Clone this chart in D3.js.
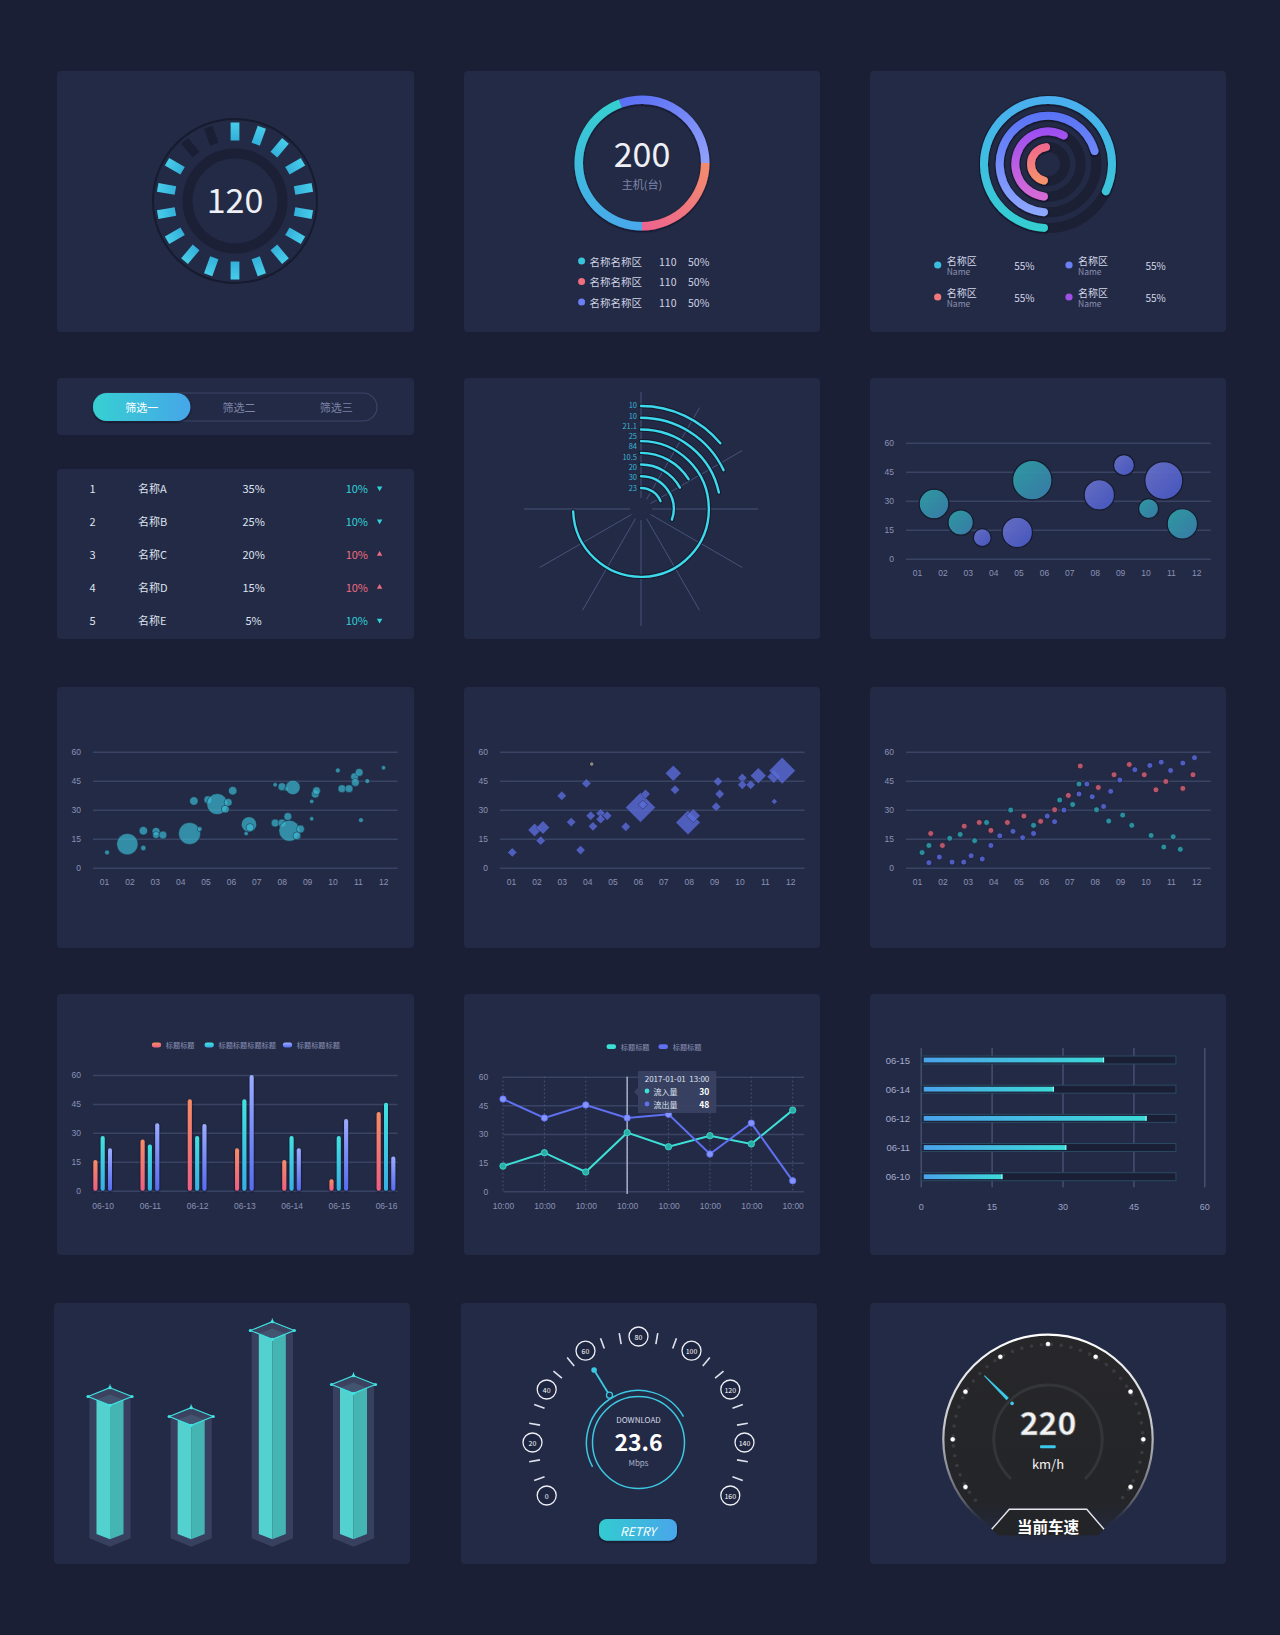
<!DOCTYPE html>
<html>
<head>
<meta charset="utf-8">
<script src="https://cdn.jsdelivr.net/npm/d3@7"></script>
<style>
body { margin: 0; background: #1b1f36; }
svg { display: block; font-family: "Noto Sans CJK SC", "Noto Sans", sans-serif; }
</style>
</head>
<body>
<svg id="board" width="1280" height="1635"></svg>
<script>
// ---- data -------------------------------------------------------------
var gaugeSegments = [1,1,1,1,1,1,1,1,1,1,1,1,1,1,1,1,0,0];
var gaugeValue = 120;

var donutValues = [110, 90, 160];            // blue, red, cyan (degrees of ring)
var donutTotal = 200;
var donutUnit = "主机(台)";
var donutNames = ["名称名称区", "名称名称区", "名称名称区"];
var donutCounts = [110, 110, 110];
var donutShares = ["50%", "50%", "50%"];

var ringValues = [83, 72, 60, 52];
var ringNames = ["名称区", "名称区", "名称区", "名称区"];
var ringSub = ["Name", "Name", "Name", "Name"];
var ringShares = ["55%", "55%", "55%", "55%"];

var tabs = ["筛选一", "筛选二", "筛选三"];
var rankNames = ["名称A", "名称B", "名称C", "名称D", "名称E"];
var rankShares = ["35%", "25%", "20%", "15%", "5%"];
var rankDeltas = ["10%", "10%", "10%", "10%", "10%"];
var rankTrend = ["down", "down", "up", "up", "down"];

var radialValues = [14, 18, 21.7, 74.4, 16.1, 17, 30.3, 18.9];
var radialLabels = ["10", "10", "21.1", "25", "84", "10.5", "20", "30", "23"];
var radialSpokes = [0, 30, 60, 90, 120, 150, 180, 210, 240, 270];

var months = ["01","02","03","04","05","06","07","08","09","10","11","12"];
var yTicks = [0, 15, 30, 45, 60];

var bubbleX = [1.67, 2.72, 3.57, 4.95, 5.54, 8.18, 9.15, 10.12, 10.72, 11.45];
var bubbleY = [28.3, 18.7, 10.9, 13.6, 40.6, 33, 48.4, 25.9, 40.4, 18];
var bubbleSize = [22, 16, 8, 23, 39, 23, 11, 10, 36, 23];
var bubbleGroup = ["a", "a", "b", "b", "a", "b", "b", "a", "b", "a"];

var clusterX = [1.12, 1.92, 2.55, 2.55, 3.05, 3.05, 3.32, 4.37, 4.77, 4.54, 5.09, 5.46, 5.78, 5.89, 6.07, 6.6, 6.71, 6.75, 7.74, 8.01, 8.18, 8.44, 7.74, 8.01, 8.24, 8.3, 8.6, 8.74, 9.18, 9.32, 9.37, 9.18, 10.21, 10.37, 10.65, 10.87, 10.9, 11.05, 11.37, 11.12, 12.01];
var clusterY = [7.9, 12.2, 10.2, 19.1, 18.8, 16.9, 16.9, 17.7, 20, 34.5, 35.2, 32.9, 30.3, 33.8, 39.8, 17.7, 22.4, 20.8, 42.9, 41.9, 40.7, 41.5, 23.1, 23.1, 26.5, 19.1, 16.5, 20, 34.3, 38.1, 39.8, 25.3, 50.3, 40.9, 40.9, 47.1, 44.1, 49.3, 44.8, 24.6, 51.7];
var clusterSize = [5, 95, 6, 15, 13, 10, 13, 101, 5, 15, 13, 92, 13, 13, 15, 4, 49, 13, 4, 13, 4, 44, 13, 13, 13, 92, 13, 13, 4, 13, 13, 4, 5, 13, 13, 13, 13, 13, 5, 5, 4];

var diamondX = [1.05, 1.93, 2.26, 2.17, 3, 3.37, 3.74, 3.97, 4.14, 4.23, 4.53, 4.53, 4.79, 5.52, 6.1, 6.19, 6.3, 7.39, 7.46, 7.97, 8.18, 9.08, 9.15, 9.22, 10.11, 10.11, 10.44, 10.74, 11.35, 11.68, 11.37];
var diamondY = [7.9, 19.5, 20.8, 14, 37.2, 23.6, 9.1, 43.6, 26.9, 21.4, 28.1, 25.1, 26.9, 21.2, 31.2, 32.6, 38.1, 48.8, 40.3, 23.4, 26.9, 31.5, 44.6, 38.1, 46.4, 42.9, 42.9, 47.6, 47.1, 50.2, 34.3];
var diamondSize = [22, 45, 45, 22, 22, 22, 22, 22, 22, 22, 22, 22, 22, 22, 225, 22, 22, 64, 22, 151, 49, 22, 22, 22, 22, 22, 22, 64, 45, 177, 9];
var strayX = [4.18], strayY = [53.6];

var redX = [1.54, 2.0, 2.86, 3.45, 3.91, 4.56, 5.21, 5.87, 6.42, 6.96, 7.43, 8.14, 8.76, 9.36, 9.95, 10.41, 10.8, 11.47, 11.87];
var redY = [17.7, 11.5, 21.5, 23.4, 19.3, 23.4, 26.7, 24, 30, 37.4, 52.6, 41.5, 48.1, 53.4, 48.1, 40.3, 44.6, 41, 48.1];
var tealX = [1.2, 1.47, 2.29, 2.7, 3.27, 3.74, 4.69, 5.59, 6.62, 7.13, 7.38, 8.07, 8.55, 9.1, 9.46, 10.22, 10.72, 11.09, 11.37];
var tealY = [7.8, 11.5, 15.2, 17.2, 14, 23.4, 29.8, 21.9, 35, 32.7, 43.3, 30, 24.1, 27.2, 21.9, 16.7, 10.7, 16, 9.5];
var blueX = [1.47, 1.88, 2.38, 2.84, 3.13, 3.57, 3.91, 4.26, 4.78, 5.16, 5.59, 6.13, 6.42, 6.79, 7.38, 7.69, 7.9, 8.35, 8.63, 8.99, 9.58, 10.17, 10.62, 10.99, 11.47, 11.93];
var blueY = [2.6, 5.5, 2.9, 2.9, 6.2, 4.5, 11.5, 16.5, 18.8, 15.5, 17.7, 26.7, 23.8, 29.8, 38.1, 43.3, 36.7, 31.7, 39.5, 45.3, 50.7, 52.9, 54.6, 50.3, 54.1, 56.9];

var barDays = ["06-10", "06-11", "06-12", "06-13", "06-14", "06-15", "06-16"];
var barA = [15.9, 26.5, 47.4, 22, 15.9, 5.9, 40.8];
var barB = [28.4, 23.9, 28.4, 47.4, 28.4, 28.4, 45.6];
var barC = [22, 35, 34.6, 60, 22, 37.2, 17.8];
var barLegend = ["标题标题", "标题标题标题标题", "标题标题标题"];

var timeLabels = ["10:00", "10:00", "10:00", "10:00", "10:00", "10:00", "10:00", "10:00"];
var inflow = [13.2, 20.2, 10.1, 30.7, 23.3, 29.1, 24.8, 42.5];
var outflow = [48.3, 38.4, 45.2, 38.4, 40.3, 19.5, 35.7, 5.5];
var lineLegend = ["标题标题", "标题标题"];
var tipIndex = 3;
var tipDate = "2017-01-01", tipTime = "13:00";
var tipNames = ["流入量", "流出量"];
var tipValues = [30, 48];

var hDays = ["06-15", "06-14", "06-12", "06-11", "06-10"];
var hValues = [38.8, 28.2, 47.8, 30.8, 17.3];
var hTrackMax = 54;
var hTicks = [0, 15, 30, 45, 60];

var isoValues = [67, 57, 100, 73];

var speedTicks = [0, 20, 40, 60, 80, 100, 120, 140, 160];
var speedNeedle = 59;
var speedText = "23.6";

var carTicks = [0, 30, 60, 90, 120, 150, 180, 210, 240];
var carNeedle = 75;
var carSpeed = 220;

// ---- helpers ----------------------------------------------------------
var svg = d3.select("#board");
var defs = svg.append("defs");
var panelFill = "#232a45";
var gridColor = "#394363";
var axisText = "#8a92b6";

function grad(id, c1, c2, x1, y1, x2, y2) {
  var g = defs.append("linearGradient").attr("id", id)
    .attr("x1", x1).attr("y1", y1).attr("x2", x2).attr("y2", y2);
  g.append("stop").attr("offset", "0%").attr("stop-color", c1);
  g.append("stop").attr("offset", "100%").attr("stop-color", c2);
  return "url(#" + id + ")";
}

var shadow = defs.append("filter").attr("id", "shadow")
  .attr("x", "-30%").attr("y", "-30%").attr("width", "160%").attr("height", "160%");
shadow.append("feDropShadow").attr("dx", 0).attr("dy", 1).attr("stdDeviation", 1.2)
  .attr("flood-color", "#0b0f1f").attr("flood-opacity", 0.9);

function panel(x, y, w, h) {
  var g = svg.append("g").attr("transform", "translate(" + x + "," + y + ")");
  g.append("rect").attr("width", w).attr("height", h).attr("rx", 4).attr("fill", panelFill);
  return g;
}

function polar(r, deg) {
  var a = (deg - 90) * Math.PI / 180;
  return [r * Math.cos(a), r * Math.sin(a)];
}

function arcPath(r, a0, a1) {
  var p = d3.path();
  p.arc(0, 0, r, (a0 - 90) * Math.PI / 180, (a1 - 90) * Math.PI / 180);
  return p.toString();
}

function styleAxis(sel) {
  sel.select(".domain").remove();
  sel.selectAll("text").attr("fill", axisText).attr("font-size", 8.5);
  sel.selectAll("line").attr("stroke", gridColor).attr("stroke-width", 1.5);
}

// shared frame for the three scatter panels
function scatterFrame(g) {
  var x = d3.scaleLinear().domain([1, 12]).range([47, 326.3]);
  var y = d3.scaleLinear().domain([0, 60]).range([180.7, 64.7]);
  g.append("g").attr("transform", "translate(36,0)")
    .call(d3.axisLeft(y).tickValues(yTicks).tickSize(-304.7).tickPadding(12))
    .call(styleAxis);
  g.append("g").attr("transform", "translate(0,180.7)")
    .call(d3.axisBottom(x).tickValues(d3.range(1, 13)).tickSize(0).tickPadding(11)
      .tickFormat(function(d) { return months[d - 1]; }))
    .call(styleAxis);
  return { x: x, y: y };
}

// ---- panel 1 : segmented gauge ---------------------------------------
var p1 = panel(57, 71, 357, 261);
var g1 = p1.append("g").attr("transform", "translate(178,130)");
g1.append("circle").attr("r", 82).attr("fill", panelFill).attr("stroke", "#171b2f").attr("stroke-width", 2);
g1.append("circle").attr("r", 47.5).attr("fill", "none").attr("stroke", "#1b2036").attr("stroke-width", 10);
var segFill = grad("segGrad", "#47cdea", "#33b0da", 0, 0, 0, 1);
var segAngle = d3.scaleLinear().domain([0, gaugeSegments.length]).range([0, 360]);
g1.selectAll("rect.seg").data(gaugeSegments).join("rect").attr("class", "seg")
  .attr("x", -4.4).attr("y", -78.5).attr("width", 8.8).attr("height", 18)
  .attr("transform", function(d, i) { return "rotate(" + segAngle(i) + ")"; })
  .attr("fill", function(d) { return d ? segFill : "#1a1f35"; });
g1.append("text").attr("text-anchor", "middle").attr("y", 12)
  .attr("font-size", 34).attr("fill", "#eef0f5").text(gaugeValue);

// ---- panel 2 : donut --------------------------------------------------
var p2 = panel(464, 71, 356, 261);
var g2 = p2.append("g").attr("transform", "translate(178,92)");
var donutFills = [
  grad("dBlue", "#566cf5", "#92a2fa", 0, 0, 1, 1),
  grad("dRed", "#f38d6c", "#ee6290", 1, 0, 0, 1),
  grad("dCyan", "#48a8eb", "#35d0d0", 0, 1, 0, 0)
];
var pie2 = d3.pie().sort(null).startAngle(-20 * Math.PI / 180).endAngle(340 * Math.PI / 180);
var arc2 = d3.arc().innerRadius(59).outerRadius(67.5);
g2.append("g").attr("filter", "url(#shadow)")
  .selectAll("path").data(pie2(donutValues)).join("path")
  .attr("d", arc2).attr("fill", function(d, i) { return donutFills[i]; });
g2.append("text").attr("text-anchor", "middle").attr("y", 3.5)
  .attr("font-size", 34).attr("fill", "#eef0f5").text(donutTotal);
g2.append("text").attr("text-anchor", "middle").attr("y", 26)
  .attr("font-size", 11).attr("fill", "#7d86aa").text(donutUnit);
var donutDots = ["#36c5dc", "#f06e7e", "#6a7ef5"];
var legY2 = d3.scalePoint().domain(d3.range(donutNames.length)).range([190, 231]);
var leg2 = p2.selectAll("g.leg").data(donutNames).join("g").attr("class", "leg")
  .attr("transform", function(d, i) { return "translate(0," + legY2(i) + ")"; });
leg2.append("circle").attr("cx", 117.6).attr("r", 3.5).attr("fill", function(d, i) { return donutDots[i]; });
leg2.append("text").attr("x", 125.5).attr("dominant-baseline", "central").attr("font-size", 10.5)
  .attr("fill", "#cfd3e4").text(function(d) { return d; });
leg2.append("text").attr("x", 195).attr("dominant-baseline", "central").attr("font-size", 10.5)
  .attr("fill", "#cfd3e4").text(function(d, i) { return donutCounts[i]; });
leg2.append("text").attr("x", 224).attr("dominant-baseline", "central").attr("font-size", 10.5)
  .attr("fill", "#cfd3e4").text(function(d, i) { return donutShares[i]; });

// ---- panel 3 : concentric rings --------------------------------------
var p3 = panel(870, 71, 356, 261);
var g3 = p3.append("g").attr("transform", "translate(178,93)");
var ringR = d3.scalePoint().domain(d3.range(ringValues.length)).range([64, 17]);
var ringFills = [
  grad("rg0", "#33cfd0", "#4aaef0", 0, 1, 0, 0),
  grad("rg1", "#8fa8ff", "#5872f5", 0, 1, 0, 0),
  grad("rg2", "#d86cd4", "#9a4ef2", 0, 1, 0, 0),
  grad("rg3", "#f6946a", "#ef6690", 0, 1, 0, 0)
];
var ringAngle = d3.scaleLinear().domain([0, 100]).range([0, 2 * Math.PI]);
g3.selectAll("circle.track").data(ringValues).join("circle").attr("class", "track")
  .attr("r", function(d, i) { return ringR(i); })
  .attr("fill", "none").attr("stroke", "#1b2035").attr("stroke-width", 10);
g3.append("g").attr("filter", "url(#shadow)")
  .selectAll("path").data(ringValues).join("path")
  .attr("d", function(d, i) {
    return d3.arc().innerRadius(ringR(i) - 4).outerRadius(ringR(i) + 4).cornerRadius(4)
      .startAngle(Math.PI).endAngle(Math.PI + ringAngle(d))();
  })
  .attr("fill", function(d, i) { return ringFills[i]; });
// legend laid out row by row: cyan, blue / salmon, purple
var ringDots = ["#3bbde2", "#6b80f5", "#f0787a", "#a04fe8"];
var ringCol = [67.7, 199];
var ringRow = [194, 226];
var leg3 = p3.selectAll("g.leg").data(ringNames).join("g").attr("class", "leg")
  .attr("transform", function(d, i) {
    return "translate(" + ringCol[i % 2] + "," + ringRow[Math.floor(i / 2)] + ")";
  });
leg3.append("circle").attr("r", 3.6).attr("fill", function(d, i) { return ringDots[i]; });
leg3.append("text").attr("x", 9).attr("y", -0.5).attr("font-size", 10).attr("fill", "#d3d6e8").text(function(d) { return d; });
leg3.append("text").attr("x", 9).attr("y", 10).attr("font-size", 8.5).attr("fill", "#8a90b0").text(function(d, i) { return ringSub[i]; });
leg3.append("text").attr("x", 76.5).attr("dominant-baseline", "central").attr("font-size", 10)
  .attr("fill", "#d3d6e8").text(function(d, i) { return ringShares[i]; });

// ---- panel 4 : tabs + ranking table ----------------------------------
var p4a = panel(57, 378, 357, 57);
p4a.append("rect").attr("x", 36).attr("y", 15).attr("width", 284).attr("height", 28).attr("rx", 14)
  .attr("fill", "none").attr("stroke", "#3b4468").attr("stroke-width", 1.2);
var tabX = d3.scaleBand().domain(tabs).range([36, 328]);
p4a.append("rect").attr("x", tabX(tabs[0])).attr("y", 15).attr("width", tabX.bandwidth()).attr("height", 28)
  .attr("rx", 14).attr("fill", grad("tabGrad", "#36d0d2", "#46a6e8", 0, 0, 1, 0)).attr("filter", "url(#shadow)");
p4a.selectAll("text.tab").data(tabs).join("text").attr("class", "tab")
  .attr("x", function(d) { return tabX(d) + tabX.bandwidth() / 2; }).attr("y", 29)
  .attr("text-anchor", "middle").attr("dominant-baseline", "central").attr("font-size", 11)
  .attr("fill", function(d, i) { return i === 0 ? "#ffffff" : "#7c84a8"; }).text(function(d) { return d; });

var p4b = panel(57, 469, 357, 170);
var rowY = d3.scalePoint().domain(d3.range(rankNames.length)).range([19, 151.3]);
var rows = p4b.selectAll("g.row").data(rankNames).join("g").attr("class", "row")
  .attr("transform", function(d, i) { return "translate(0," + rowY(i) + ")"; });
function cell(sel, x, anchor, fill, fn) {
  sel.append("text").attr("x", x).attr("text-anchor", anchor).attr("dominant-baseline", "central")
    .attr("font-size", 11).attr("fill", fill).text(fn);
}
cell(rows, 35.5, "middle", "#dfe3ef", function(d, i) { return i + 1; });
cell(rows, 81, "start", "#dfe3ef", function(d) { return d; });
cell(rows, 196.6, "middle", "#dfe3ef", function(d, i) { return rankShares[i]; });
rows.append("text").attr("x", 299.8).attr("text-anchor", "middle").attr("dominant-baseline", "central")
  .attr("font-size", 11).attr("fill", function(d, i) { return rankTrend[i] === "up" ? "#ef6a80" : "#2fd0d8"; })
  .text(function(d, i) { return rankDeltas[i]; });
rows.append("path").attr("d", d3.symbol(d3.symbolTriangle).size(13))
  .attr("transform", function(d, i) { return "translate(322.6,0)" + (rankTrend[i] === "up" ? "" : " rotate(180)"); })
  .attr("fill", function(d, i) { return rankTrend[i] === "up" ? "#ef6a80" : "#2fd0d8"; });

// ---- panel 5 : radial bars -------------------------------------------
var p5 = panel(464, 378, 356, 261);
var g5 = p5.append("g").attr("transform", "translate(177,131)");
g5.selectAll("line.spoke").data(radialSpokes).join("line").attr("class", "spoke")
  .attr("x1", function(d) { return polar(11, d)[0]; }).attr("y1", function(d) { return polar(11, d)[1]; })
  .attr("x2", function(d) { return polar(117, d)[0]; }).attr("y2", function(d) { return polar(117, d)[1]; })
  .attr("stroke", "#46537a").attr("stroke-width", 1);
var radR = d3.scaleLinear().domain([0, radialValues.length - 1]).range([103, 21]);
var radA = d3.scaleLinear().domain([0, 100]).range([0, 360]);
g5.selectAll("path.under").data(radialValues).join("path").attr("class", "under")
  .attr("d", function(d, i) { return arcPath(radR(i), 0, radA(d)); })
  .attr("fill", "none").attr("stroke", "#161a2d").attr("stroke-width", 4.5).attr("stroke-linecap", "round");
g5.selectAll("path.bar").data(radialValues).join("path").attr("class", "bar")
  .attr("d", function(d, i) { return arcPath(radR(i), 0, radA(d)); })
  .attr("fill", "none").attr("stroke", "#3cd8ec").attr("stroke-width", 2.4).attr("stroke-linecap", "round");
var radLabY = d3.scalePoint().domain(d3.range(radialLabels.length)).range([26.7 - 131, 109 - 131]);
g5.selectAll("text.rl").data(radialLabels).join("text").attr("class", "rl")
  .attr("x", -4).attr("y", function(d, i) { return radLabY(i); })
  .attr("text-anchor", "end").attr("dominant-baseline", "central").attr("font-size", 7.5)
  .attr("fill", "#38b6d8").text(function(d) { return d; });

// ---- panel 6 : bubble chart ------------------------------------------
var p6 = panel(870, 378, 356, 261);
var f6 = scatterFrame(p6);
var bubR = d3.scaleSqrt().domain([0, 40]).range([0, 20]);
var bubFill = {
  a: grad("bubA", "#2ea3a8", "#3a7fae", 0, 0, 1, 1),
  b: grad("bubB", "#6b74cc", "#4758c8", 0, 0, 1, 1)
};
p6.append("g").selectAll("circle").data(bubbleX).join("circle")
  .attr("cx", function(d) { return f6.x(d); })
  .attr("cy", function(d, i) { return f6.y(bubbleY[i]); })
  .attr("r", function(d, i) { return bubR(bubbleSize[i]); })
  .attr("fill", function(d, i) { return bubFill[bubbleGroup[i]]; })
  .attr("fill-opacity", 0.92).attr("stroke", "#161b2e").attr("stroke-width", 1.2);

// ---- panel 7 : clustered bubbles -------------------------------------
var p7 = panel(57, 687, 357, 261);
var f7 = scatterFrame(p7);
var cluR = d3.scaleSqrt().domain([0, 120]).range([0, 12]);
p7.append("g").selectAll("circle").data(clusterX).join("circle")
  .attr("cx", function(d) { return f7.x(d); })
  .attr("cy", function(d, i) { return f7.y(clusterY[i]); })
  .attr("r", function(d, i) { return cluR(clusterSize[i]); })
  .attr("fill", "#3cbcd6").attr("fill-opacity", 0.68)
  .attr("stroke", "#1a2036").attr("stroke-opacity", 0.6).attr("stroke-width", 0.8);

// ---- panel 8 : diamonds ----------------------------------------------
var p8 = panel(464, 687, 356, 261);
var f8 = scatterFrame(p8);
var diaR = d3.scaleSqrt().domain([0, 225]).range([0, 15]);
p8.append("g").selectAll("path").data(diamondX).join("path")
  .attr("d", function(d, i) {
    var h = diaR(diamondSize[i]);
    return "M0," + (-h) + "L" + h + ",0L0," + h + "L" + (-h) + ",0Z";
  })
  .attr("transform", function(d, i) { return "translate(" + f8.x(d) + "," + f8.y(diamondY[i]) + ")"; })
  .attr("fill", "#5a6bd8").attr("fill-opacity", 0.8)
  .attr("stroke", "#1a1f38").attr("stroke-opacity", 0.5).attr("stroke-width", 0.8);
p8.append("g").selectAll("circle").data(strayX).join("circle")
  .attr("cx", function(d) { return f8.x(d); }).attr("cy", function(d, i) { return f8.y(strayY[i]); })
  .attr("r", 2.3).attr("fill", "#8c8a80").attr("stroke", "#1a1f35");

// ---- panel 9 : three-series scatter ----------------------------------
var p9 = panel(870, 687, 356, 261);
var f9 = scatterFrame(p9);
var dotSeries = [
  { xs: redX, ys: redY, color: "#b8566c" },
  { xs: tealX, ys: tealY, color: "#2a8e9e" },
  { xs: blueX, ys: blueY, color: "#4f5dc2" }
];
dotSeries.forEach(function(s) {
  p9.append("g").selectAll("circle").data(s.xs).join("circle")
    .attr("cx", function(d) { return f9.x(d); })
    .attr("cy", function(d, i) { return f9.y(s.ys[i]); })
    .attr("r", 3).attr("fill", s.color).attr("stroke", "#181d33").attr("stroke-width", 0.8);
});

// ---- panel 10 : grouped bars -----------------------------------------
var p10 = panel(57, 994, 357, 261);
var x10 = d3.scalePoint().domain(barDays).range([45.7, 329]);
var y10 = d3.scaleLinear().domain([0, 60]).range([196.7, 81]);
p10.append("g").attr("transform", "translate(36,0)")
  .call(d3.axisLeft(y10).tickValues(yTicks).tickSize(-304.7).tickPadding(12)).call(styleAxis);
p10.append("g").attr("transform", "translate(0,196.7)")
  .call(d3.axisBottom(x10).tickSize(0).tickPadding(12)).call(styleAxis);
var barFills = [
  grad("bA", "#f68c66", "#ee5f82", 0, 0, 0, 1),
  grad("bB", "#40e2e0", "#38aee6", 0, 0, 0, 1),
  grad("bC", "#9aacff", "#566cf0", 0, 0, 0, 1)
];
var inner10 = d3.scalePoint().domain([0, 1, 2]).range([-7.3, 7.3]);
var barSets = [barA, barB, barC];
var bars10 = p10.append("g").attr("filter", "url(#shadow)");
barSets.forEach(function(set, k) {
  bars10.selectAll("rect.s" + k).data(set).join("rect").attr("class", "s" + k)
    .attr("x", function(d, i) { return x10(barDays[i]) + inner10(k) - 2; })
    .attr("y", function(d) { return y10(d); })
    .attr("width", 4).attr("height", function(d) { return y10(0) - y10(d); })
    .attr("rx", 2).attr("fill", barFills[k]);
});
var legX10 = [99.5, 152.2, 230.5];
var leg10 = p10.selectAll("g.leg").data(barLegend).join("g").attr("class", "leg")
  .attr("transform", function(d, i) { return "translate(" + legX10[i] + ",51)"; });
leg10.append("rect").attr("x", -4.7).attr("y", -2.4).attr("width", 9.4).attr("height", 4.8).attr("rx", 2.4)
  .attr("fill", function(d, i) { return barFills[i]; });
leg10.append("text").attr("x", 9.3).attr("dominant-baseline", "central").attr("font-size", 7.2)
  .attr("fill", axisText).text(function(d) { return d; });

// ---- panel 11 : line chart with tooltip ------------------------------
var p11 = panel(464, 994, 356, 261);
var x11 = d3.scalePoint().domain(d3.range(timeLabels.length)).range([39, 328.7]);
var y11 = d3.scaleLinear().domain([0, 60]).range([197.3, 82.7]);
p11.append("g").attr("transform", "translate(39.3,0)")
  .call(d3.axisLeft(y11).tickValues(yTicks).tickSize(-300.7).tickPadding(15)).call(styleAxis);
p11.append("g").attr("transform", "translate(0,197.3)")
  .call(d3.axisBottom(x11).tickSize(0).tickPadding(12).tickFormat(function(d) { return timeLabels[d]; }))
  .call(styleAxis);
p11.selectAll("line.vgrid").data(timeLabels).join("line").attr("class", "vgrid")
  .attr("x1", function(d, i) { return x11(i); }).attr("x2", function(d, i) { return x11(i); })
  .attr("y1", y11(60)).attr("y2", y11(0))
  .attr("stroke", "#4b5679").attr("stroke-width", 1).attr("stroke-dasharray", "1.5,2.5");
p11.append("line").attr("x1", x11(tipIndex)).attr("x2", x11(tipIndex)).attr("y1", y11(60)).attr("y2", 200)
  .attr("stroke", "#b9c1dc").attr("stroke-width", 1.3);
var line11 = d3.line().x(function(d, i) { return x11(i); }).y(function(d) { return y11(d); });
var lineSeries = [
  { vals: inflow, stroke: "#3de0d6", dot: "#2aaea6" },
  { vals: outflow, stroke: "#5f70f0", dot: "#8393ff" }
];
lineSeries.forEach(function(s) {
  p11.append("path").datum(s.vals).attr("d", line11).attr("fill", "none")
    .attr("stroke", s.stroke).attr("stroke-width", 2);
  p11.append("g").selectAll("circle").data(s.vals).join("circle")
    .attr("cx", function(d, i) { return x11(i); }).attr("cy", function(d) { return y11(d); })
    .attr("r", 3.2).attr("fill", s.dot).attr("stroke", s.stroke).attr("stroke-width", 0.8);
});
var legX11 = [147.3, 199.2];
var leg11 = p11.selectAll("g.leg").data(lineLegend).join("g").attr("class", "leg")
  .attr("transform", function(d, i) { return "translate(" + legX11[i] + ",52.7)"; });
leg11.append("rect").attr("x", -4.8).attr("y", -2.4).attr("width", 9.6).attr("height", 4.8).attr("rx", 2.4)
  .attr("fill", function(d, i) { return lineSeries[i].stroke; });
leg11.append("text").attr("x", 9.5).attr("dominant-baseline", "central").attr("font-size", 7.2)
  .attr("fill", axisText).text(function(d) { return d; });
var tip = p11.append("g");
tip.append("path").attr("d", "M174,77H252.3V119H174V102L170,97.7L174,93.4Z")
  .attr("fill", "#3a4264").attr("fill-opacity", 0.9);
tip.append("text").attr("x", 180.7).attr("y", 84.5).attr("dominant-baseline", "central")
  .attr("font-size", 8).attr("fill", "#dfe3f0").text(tipDate);
tip.append("text").attr("x", 245.3).attr("y", 84.5).attr("text-anchor", "end").attr("dominant-baseline", "central")
  .attr("font-size", 8).attr("fill", "#dfe3f0").text(tipTime);
var tipRow = d3.scalePoint().domain([0, 1]).range([97, 110]);
tipNames.forEach(function(n, i) {
  tip.append("circle").attr("cx", 183).attr("cy", tipRow(i)).attr("r", 2.4).attr("fill", lineSeries[i].stroke);
  tip.append("text").attr("x", 189.5).attr("y", tipRow(i)).attr("dominant-baseline", "central")
    .attr("font-size", 8).attr("fill", "#dfe3f0").text(n);
  tip.append("text").attr("x", 245.3).attr("y", tipRow(i)).attr("text-anchor", "end").attr("dominant-baseline", "central")
    .attr("font-size", 8.5).attr("font-weight", "bold").attr("fill", "#ffffff").text(tipValues[i]);
});

// ---- panel 12 : horizontal progress bars -----------------------------
var p12 = panel(870, 994, 356, 261);
var x12 = d3.scaleLinear().domain([0, 60]).range([50.7, 334.3]);
var y12 = d3.scalePoint().domain(hDays).range([66, 182.7]);
p12.append("g").attr("transform", "translate(0,193.3)")
  .call(d3.axisBottom(x12).tickValues(hTicks).tickSize(-139.3).tickPadding(16))
  .call(function(sel) {
    styleAxis(sel);
    sel.selectAll("line").attr("stroke", "#4a5578").attr("stroke-width", 1.3);
    sel.selectAll("text").attr("font-size", 9).attr("fill", "#9aa2c6");
  });
p12.append("g").attr("transform", "translate(40,0)")
  .call(d3.axisLeft(y12).tickSize(0).tickPadding(0))
  .call(function(sel) {
    styleAxis(sel);
    sel.selectAll("text").attr("font-size", 9.5).attr("fill", "#a6add0");
  });
var hFill = grad("hGrad", "#4aa3ea", "#3cdad8", 0, 0, 1, 0);
var hb = p12.selectAll("g.hb").data(hValues).join("g").attr("class", "hb")
  .attr("transform", function(d, i) { return "translate(0," + y12(hDays[i]) + ")"; });
hb.append("rect").attr("x", x12(0) + 1).attr("y", -4).attr("width", x12(hTrackMax) - x12(0) - 1).attr("height", 8)
  .attr("fill", "#1b1f36").attr("stroke", "#2a4a62").attr("stroke-width", 1);
hb.append("rect").attr("x", x12(0) + 3).attr("y", -2.4).attr("height", 4.8)
  .attr("width", function(d) { return x12(d) - x12(0) - 3; }).attr("fill", hFill);
hb.append("rect").attr("x", function(d) { return x12(d) - 1.2; }).attr("y", -2.4).attr("width", 1.2).attr("height", 4.8)
  .attr("fill", "#8ff4ee");

// ---- panel 13 : isometric bars ---------------------------------------
var p13 = panel(54, 1303, 356, 261);
var isoX = d3.scalePoint().domain(d3.range(isoValues.length)).range([56, 299.5]);
var isoH = d3.scaleLinear().domain([0, 100]).range([0, 200]);
var isoBase = 236.3;
var poly = function(pts) { return d3.line()(pts) + "Z"; };
isoValues.forEach(function(v, i) {
  var cx = isoX(i), top = isoBase - isoH(v), dm = top - 8.8;
  var w2 = 13.5, h2 = 5.4;
  var g = p13.append("g");
  g.append("path").attr("d", poly([[cx - 20.6, dm], [cx - 20.6, 235.3], [cx, 243.7], [cx + 20.6, 235.3], [cx + 20.6, dm]]))
    .attr("fill", "#3b4362").attr("fill-opacity", 0.9);
  g.append("path").attr("d", poly([[cx - w2, top - h2], [cx, top], [cx, isoBase], [cx - w2, isoBase - h2]])).attr("fill", "#52d1cf");
  g.append("path").attr("d", poly([[cx + w2, top - h2], [cx, top], [cx, isoBase], [cx + w2, isoBase - h2]])).attr("fill", "#45b5b3");
  g.append("path").attr("d", poly([[cx, top], [cx - w2, top - h2], [cx, top - 2 * h2], [cx + w2, top - h2]])).attr("fill", "#6fe0de");
  var dia = [[cx, dm - 8.8], [cx + 22, dm], [cx, dm + 8.8], [cx - 22, dm]];
  g.append("path").attr("d", poly(dia)).attr("fill", "#3d4563").attr("fill-opacity", 0.9)
    .attr("stroke", "#3fe3e3").attr("stroke-width", 1.1);
  g.selectAll("circle").data(dia).join("circle").attr("cx", function(d) { return d[0]; }).attr("cy", function(d) { return d[1]; })
    .attr("r", 1.6).attr("fill", "#3fe3e3");
  g.append("line").attr("x1", cx).attr("x2", cx).attr("y1", dm - 12).attr("y2", dm - 8.8)
    .attr("stroke", "#3fe3e3").attr("stroke-width", 1);
});

// ---- panel 14 : download speed gauge ---------------------------------
var p14 = panel(461, 1303, 356, 261);
var g14 = p14.append("g").attr("transform", "translate(177.5,139.5)");
var spd = d3.scaleLinear().domain([0, 160]).range([-120, 120]);
var minorSpd = d3.range(0, 160, 20 / 3).filter(function(v) { return Math.abs(v / 20 - Math.round(v / 20)) > 0.01; });
g14.selectAll("line.mt").data(minorSpd).join("line").attr("class", "mt")
  .attr("x1", function(d) { return polar(100, spd(d))[0]; }).attr("y1", function(d) { return polar(100, spd(d))[1]; })
  .attr("x2", function(d) { return polar(111, spd(d))[0]; }).attr("y2", function(d) { return polar(111, spd(d))[1]; })
  .attr("stroke", "#dfe2ee").attr("stroke-width", 1.6);
var lab14 = g14.selectAll("g.lab").data(speedTicks).join("g").attr("class", "lab")
  .attr("transform", function(d) { var p = polar(106, spd(d)); return "translate(" + p[0] + "," + p[1] + ")"; });
lab14.append("circle").attr("r", 9.5).attr("fill", "#1e2540").attr("stroke", "#eef0f6").attr("stroke-width", 1.3);
lab14.append("text").attr("text-anchor", "middle").attr("dominant-baseline", "central").attr("font-size", 7)
  .attr("fill", "#ffffff").text(function(d) { return d; });
g14.append("circle").attr("r", 46).attr("fill", "none").attr("stroke", "#3cc8e2").attr("stroke-width", 1.5);
g14.append("path").attr("d", arcPath(52, -118, 60)).attr("fill", "none").attr("stroke", "#3cc8e2").attr("stroke-width", 1.5);
var na = spd(speedNeedle);
var n0 = polar(55.5, na), n1 = polar(85, na);
g14.append("line").attr("x1", n0[0]).attr("y1", n0[1]).attr("x2", n1[0]).attr("y2", n1[1])
  .attr("stroke", "#3cc8e2").attr("stroke-width", 1.8);
g14.append("circle").attr("cx", n0[0]).attr("cy", n0[1]).attr("r", 3).attr("fill", panelFill).attr("stroke", "#3cc8e2").attr("stroke-width", 1.3);
g14.append("circle").attr("cx", n1[0]).attr("cy", n1[1]).attr("r", 2.8).attr("fill", "#3cc8e2");
g14.append("text").attr("y", -23).attr("text-anchor", "middle").attr("dominant-baseline", "central")
  .attr("font-size", 8).attr("fill", "#d6dae8").text("DOWNLOAD");
g14.append("text").attr("y", 8).attr("text-anchor", "middle").attr("font-size", 23).attr("font-weight", "bold")
  .attr("fill", "#ffffff").text(speedText);
g14.append("text").attr("y", 20).attr("text-anchor", "middle").attr("dominant-baseline", "central")
  .attr("font-size", 8).attr("fill", "#a8b0cc").text("Mbps");
p14.append("rect").attr("x", 138).attr("y", 216).attr("width", 78).attr("height", 21.7).attr("rx", 8)
  .attr("fill", grad("retryGrad", "#33cbd0", "#48a6ea", 0, 0, 1, 0)).attr("filter", "url(#shadow)");
p14.append("text").attr("x", 177).attr("y", 227).attr("text-anchor", "middle").attr("dominant-baseline", "central")
  .attr("font-size", 12).attr("font-style", "italic").attr("fill", "#ffffff").text("RETRY");

// ---- panel 15 : car speedometer --------------------------------------
var p15 = panel(870, 1303, 356, 261);
var faceGrad = defs.append("linearGradient").attr("id", "faceGrad").attr("x1", 0).attr("y1", 0).attr("x2", 0).attr("y2", 1);
faceGrad.append("stop").attr("offset", "0%").attr("stop-color", "#27272a");
faceGrad.append("stop").attr("offset", "80%").attr("stop-color", "#242528");
faceGrad.append("stop").attr("offset", "100%").attr("stop-color", panelFill);
var rimGrad = defs.append("linearGradient").attr("id", "rimGrad").attr("x1", 0).attr("y1", 0).attr("x2", 0).attr("y2", 1);
rimGrad.append("stop").attr("offset", "0%").attr("stop-color", "#ffffff");
rimGrad.append("stop").attr("offset", "45%").attr("stop-color", "#c2c3c8");
rimGrad.append("stop").attr("offset", "80%").attr("stop-color", "#5c5f6b");
rimGrad.append("stop").attr("offset", "92%").attr("stop-color", panelFill).attr("stop-opacity", 0);
rimGrad.append("stop").attr("offset", "100%").attr("stop-color", panelFill).attr("stop-opacity", 0);
var g15 = p15.append("g").attr("transform", "translate(178,136.3)");
g15.append("circle").attr("r", 104.7).attr("fill", "url(#faceGrad)").attr("stroke", "url(#rimGrad)").attr("stroke-width", 2.2);
var car = d3.scaleLinear().domain([0, 240]).range([-120, 120]);
var carMinor = d3.range(-22, 263, 6).filter(function(v) { return v % 30 !== 0 && car(v) >= -133 && car(v) <= 133; });
g15.selectAll("circle.minor").data(carMinor).join("circle").attr("class", "minor")
  .attr("cx", function(d) { return polar(94.8, car(d))[0]; }).attr("cy", function(d) { return polar(94.8, car(d))[1]; })
  .attr("r", 1.8).attr("fill", "#3a3b40");
g15.selectAll("circle.major").data(carTicks).join("circle").attr("class", "major")
  .attr("cx", function(d) { return polar(95.3, car(d))[0]; }).attr("cy", function(d) { return polar(95.3, car(d))[1]; })
  .attr("r", 2.6).attr("fill", "#ffffff").attr("stroke", "#111").attr("stroke-width", 0.6);
g15.append("path").attr("d", arcPath(54.2, -137, 137)).attr("fill", "none").attr("stroke", "#343539").attr("stroke-width", 3);
var ca = car(carNeedle);
g15.append("path").attr("d", "M-1.6,-57L1.6,-57L0.5,-90L-0.5,-90Z").attr("transform", "rotate(" + ca + ")").attr("fill", "#3cc8e8");
var cd = polar(50.8, ca);
g15.append("circle").attr("cx", cd[0]).attr("cy", cd[1]).attr("r", 1.8).attr("fill", "#3cc8e8");
g15.append("text").attr("y", -4.3).attr("text-anchor", "middle").attr("font-size", 32).attr("font-weight", "bold")
  .attr("fill", "#f3f3f3").attr("stroke", "#6a6a6a").attr("stroke-width", 0.6).text(carSpeed);
g15.append("rect").attr("x", -8).attr("y", 5.9).attr("width", 15.7).attr("height", 3).attr("rx", 1).attr("fill", "#3cc8e8");
g15.append("text").attr("y", 24.7).attr("text-anchor", "middle").attr("dominant-baseline", "central")
  .attr("font-size", 13).attr("fill", "#f3f3f3").text("km/h");
var trap = [[-56.3, 90], [-38.7, 70], [38.7, 70], [56, 90]];
g15.append("path").attr("d", poly([[-56.3, 90], [-38.7, 70], [38.7, 70], [56, 90], [50, 96], [-50, 96]]))
  .attr("fill", "#232427");
g15.append("path").attr("d", d3.line()(trap)).attr("fill", "none").attr("stroke", "#e6e6ec").attr("stroke-width", 1.4);
g15.append("text").attr("y", 86.7).attr("text-anchor", "middle").attr("dominant-baseline", "central")
  .attr("font-size", 15.5).attr("font-weight", "bold").attr("fill", "#ffffff").text("当前车速");
</script>
</body>
</html>
